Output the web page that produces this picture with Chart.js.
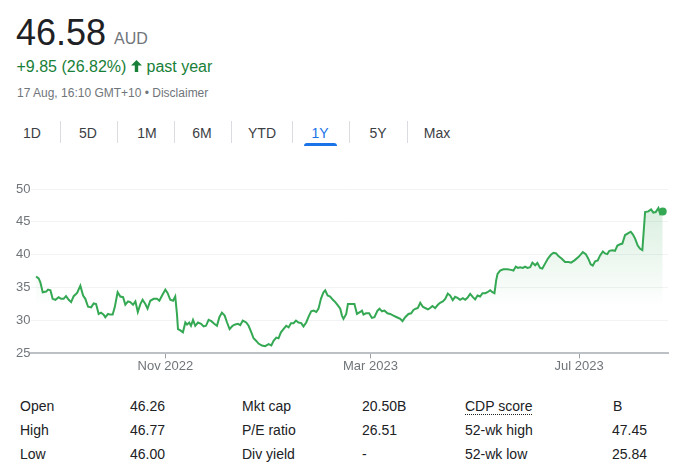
<!DOCTYPE html>
<html><head><meta charset="utf-8">
<script src="https://cdn.jsdelivr.net/npm/chart.js@4"></script>
<style>
body{margin:0;background:#fff;font-family:Arial,"Liberation Sans",sans-serif;width:676px;height:472px;overflow:hidden;position:relative}
.a{position:absolute;white-space:nowrap;line-height:1}
.tab{position:absolute;width:60px;text-align:center;font-size:14px;color:#3c4043;line-height:1;top:125.5px}
.sep{position:absolute;top:121px;width:1px;height:22px;background:#dadce0}
.t{position:absolute;font-size:14px;color:#202124;line-height:1;white-space:nowrap}
#wrap{position:absolute;left:0;top:170px;width:676px;height:210px}
</style></head><body>
<div class="a" style="left:16px;top:15.3px;font-size:36px;color:#202124">46.58</div>
<div class="a" style="left:114px;top:31.2px;font-size:16px;color:#70757a">AUD</div>
<div class="a" style="left:16.5px;top:59px;font-size:16px;color:#188038">+9.85 (26.82%)</div>
<svg class="a" style="left:131px;top:60px" width="11" height="12" viewBox="0 0 11 12"><path fill="#188038" d="M5.5 0 L11 5.6 L7.2 5.6 L7.2 12 L3.8 12 L3.8 5.6 L0 5.6 Z"/></svg>
<div class="a" style="left:146.5px;top:59px;font-size:16px;color:#188038">past year</div>
<div class="a" style="left:17px;top:87.4px;font-size:12px;color:#70757a">17 Aug, 16:10 GMT+10 • Disclaimer</div>

<div class="tab" style="left:2px">1D</div>
<div class="tab" style="left:58px">5D</div>
<div class="tab" style="left:117px">1M</div>
<div class="tab" style="left:172px">6M</div>
<div class="tab" style="left:232px">YTD</div>
<div class="tab" style="left:290px;color:#1a73e8">1Y</div>
<div class="tab" style="left:348px">5Y</div>
<div class="tab" style="left:407px">Max</div>
<div class="sep" style="left:60px"></div>
<div class="sep" style="left:117px"></div>
<div class="sep" style="left:174px"></div>
<div class="sep" style="left:231px"></div>
<div class="sep" style="left:292px"></div>
<div class="sep" style="left:349px"></div>
<div class="sep" style="left:407px"></div>
<div style="position:absolute;left:304px;top:143px;width:33px;height:3px;background:#1a73e8;border-radius:3px 3px 0 0"></div>

<div id="wrap"><canvas id="c"></canvas></div>

<div class="t" style="left:20px;top:398.5px">Open</div>
<div class="t" style="left:130px;top:398.5px">46.26</div>
<div class="t" style="left:242px;top:398.5px">Mkt cap</div>
<div class="t" style="left:362px;top:398.5px">20.50B</div>
<div class="t" style="left:465px;top:398.5px;border-bottom:1px dotted #202124;padding-bottom:1px">CDP score</div>
<div class="t" style="left:613px;top:398.5px">B</div>
<div class="t" style="left:20px;top:422.5px">High</div>
<div class="t" style="left:130px;top:422.5px">46.77</div>
<div class="t" style="left:242px;top:422.5px">P/E ratio</div>
<div class="t" style="left:362px;top:422.5px">26.51</div>
<div class="t" style="left:465px;top:422.5px">52-wk high</div>
<div class="t" style="left:612px;top:422.5px">47.45</div>
<div class="t" style="left:20px;top:446.5px">Low</div>
<div class="t" style="left:130px;top:446.5px">46.00</div>
<div class="t" style="left:242px;top:446.5px">Div yield</div>
<div class="t" style="left:362px;top:446.5px">-</div>
<div class="t" style="left:465px;top:446.5px">52-wk low</div>
<div class="t" style="left:612px;top:446.5px">25.84</div>

<script>
// Days since 17 Aug 2022
const days = [0.4,1.9,2.9,4.3,6.3,7.4,8.8,10.1,11.7,13.6,15.0,16.5,17.9,19.5,20.9,22.4,24.4,26.3,27.9,29.2,30.8,32.6,34.1,35.5,37.0,38.4,39.9,40.9,42.5,43.8,45.2,46.4,48.1,49.7,51.3,52.6,54.2,55.5,57.1,58.5,59.9,61.4,62.7,64.3,65.6,67.2,69.2,71.1,72.5,74.1,76.0,77.3,78.9,80.5,81.8,82.8,83.4,84.8,86.3,87.7,88.7,90.0,91.0,92.2,93.5,95.1,96.9,98.4,99.8,101.3,102.9,104.6,106.2,107.6,109.1,110.7,112.1,113.6,115.3,116.9,118.5,119.8,121.3,123.3,124.7,126.3,127.6,129.2,130.5,132.5,134.4,136.4,138.0,139.3,140.9,142.2,143.6,145.1,146.7,148.1,149.5,151.0,152.4,153.9,155.5,156.8,158.4,159.8,161.3,162.7,164.3,165.6,167.0,168.5,169.5,170.9,172.4,174.0,175.4,176.9,178.3,179.3,180.2,181.8,182.8,186.6,188.1,190.0,191.0,191.9,193.3,195.2,196.8,198.3,200.1,201.3,202.7,204.2,205.9,207.5,209.4,211.4,213.4,214.7,216.3,218.2,219.8,221.1,222.5,223.7,225.1,226.6,228.0,229.6,230.9,232.2,233.8,235.4,236.7,238.3,239.7,241.2,242.6,244.1,245.5,246.9,248.4,250.0,251.4,252.7,254.3,255.9,257.2,258.6,260.1,261.5,263.1,264.4,266.0,267.3,268.5,269.5,270.3,271.8,273.7,276.1,278.2,279.6,281.0,282.2,283.5,285.1,286.4,287.8,289.4,290.7,292.3,293.6,295.2,296.5,298.1,299.7,301.5,303.0,304.6,305.9,307.9,309.8,311.8,313.3,315.3,317.6,320.2,321.9,323.4,324.8,326.0,327.4,328.9,330.3,331.9,333.2,334.5,335.7,337.5,339.0,340.4,342.0,343.3,344.9,346.8,348.2,349.4,350.7,352.3,353.7,355.0,356.6,358.5,360.1,361.4,362.8,364.4,365.5,366.9];
const prices = [36.7,36.4,35.8,34.3,34.4,34.7,34.6,33.3,33.15,33.55,33.3,33.3,33.7,33.15,32.8,33.7,34.2,35.3,33.8,33.3,32.1,32.0,32.6,32.5,31.0,31.2,30.9,30.5,31.0,30.9,30.9,32.0,34.3,33.65,33.55,32.4,32.9,32.8,32.4,32.9,31.3,32.5,33.15,32.5,31.8,33.0,33.3,33.3,33.0,33.8,34.7,34.2,33.15,33.0,33.65,31.0,28.7,28.5,28.2,29.7,29.4,29.7,29.2,30.1,29.2,29.7,29.5,29.1,29.2,30.1,29.9,29.5,29.2,30.5,31.2,30.75,29.7,28.7,29.2,29.4,29.5,29.3,30.0,29.7,29.2,28.2,27.3,26.9,26.5,26.2,26.1,26.4,26.2,26.9,27.4,27.3,28.2,28.7,29.2,28.95,29.6,29.6,30.0,29.7,29.6,29.1,29.7,30.6,31.4,31.5,31.3,31.8,33.3,34.3,34.6,33.8,33.65,33.15,32.8,32.3,31.8,30.75,30.25,31.0,32.5,32.5,31.0,31.3,31.5,30.9,31.1,31.1,30.4,30.5,31.5,31.8,31.4,31.5,31.1,31.0,30.75,30.5,30.25,29.9,30.5,31.0,31.1,31.6,31.8,31.9,32.7,32.1,31.9,31.7,31.9,32.2,31.9,32.4,32.7,32.9,33.3,34.1,33.8,33.1,33.6,33.45,33.15,33.4,33.15,33.45,34.05,33.55,33.2,33.8,33.65,34.15,34.15,34.3,34.6,34.3,34.15,36.1,37.1,37.6,37.8,37.8,37.7,37.6,38.2,38.0,38.1,38.0,38.2,38.0,38.1,38.8,38.4,38.75,38.0,37.9,38.65,39.4,40.0,40.3,40.2,39.8,39.4,38.9,38.9,38.8,39.15,39.65,40.4,40.1,39.4,38.55,38.35,39.0,39.15,39.9,40.5,40.2,40.1,40.6,40.7,40.6,41.4,41.6,41.7,43.0,43.3,43.5,43.1,42.5,41.4,40.9,40.7,46.5,46.6,46.9,46.4,46.5,47.1,46.2,46.58];
const tickDays = [76, 196, 318];
const tickLabels = ['Nov 2022', 'Mar 2023', 'Jul 2023'];
const yTicks = [25, 30, 35, 40, 45, 50];

const green = 'rgb(52,168,83)';
const pts = days.map((d, i) => ({x: d, y: prices[i]}));
const last = pts.length - 1;

new Chart(document.getElementById('c'), {
  type: 'line',
  data: {datasets: [{
    data: pts,
    borderColor: green,
    borderWidth: 2,
    tension: 0,
    pointRadius: c => c.dataIndex === last ? 4 : 0,
    pointBackgroundColor: green,
    pointBorderWidth: 0,
    fill: 'origin',
    backgroundColor: c => {
      const ch = c.chart, ca = ch.chartArea;
      if (!ca) return 'rgba(0,0,0,0)';
      const ys = ch.scales.y;
      const g = ch.ctx.createLinearGradient(0, ys.getPixelForValue(50), 0, ys.getPixelForValue(32));
      g.addColorStop(0, 'rgba(52,168,83,0.22)');
      g.addColorStop(1, 'rgba(52,168,83,0)');
      return g;
    }
  }]},
  options: {
    responsive: true, maintainAspectRatio: false, animation: false,
    layout: {padding: {left: 15, right: 8, top: 19, bottom: 6}},
    plugins: {legend: {display: false}, tooltip: {enabled: false}},
    scales: {
      x: {
        type: 'linear', min: -2.3, max: 370,
        afterBuildTicks: s => { s.ticks = tickDays.map(v => ({value: v})); },
        ticks: {
          autoSkip: false, maxRotation: 0, padding: 0,
          color: '#70757a', font: {family: 'Arial, "Liberation Sans"', size: 13},
          callback: (v) => tickLabels[tickDays.indexOf(v)]
        },
        grid: {drawOnChartArea: false, drawTicks: true, tickLength: 5, color: '#9aa0a6', lineWidth: 1},
        border: {display: true, color: '#bdc1c6', width: 2}
      },
      y: {
        min: 25, max: 50,
        afterBuildTicks: s => { s.ticks = yTicks.map(v => ({value: v})); },
        ticks: {padding: 1, color: '#70757a', font: {family: 'Arial, "Liberation Sans"', size: 13}},
        grid: {drawTicks: false, color: '#f1f3f4', lineWidth: 1},
        border: {display: false}
      }
    }
  }
});
</script>
</body></html>
